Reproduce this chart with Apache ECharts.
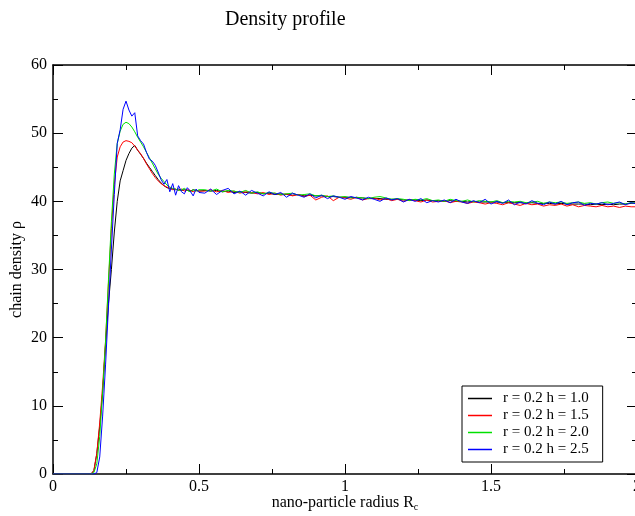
<!DOCTYPE html>
<html>
<head>
<meta charset="utf-8">
<script src="https://cdn.jsdelivr.net/npm/echarts@6/dist/echarts.min.js"></script>
<style>html,body{margin:0;padding:0;background:#fff;}#c{width:635px;height:516px;}</style>
</head>
<body>
<div id="c"></div>
<script>
var xValues = [0, 0.12, 0.13,
  0.14,0.15,0.16,0.17,0.18,0.19,0.20,0.21,0.22,0.23,0.24,0.25,0.26,0.27,0.28,0.29,0.30,0.31,0.32,0.33,0.34,0.35,0.36,0.37,0.38,0.39,0.40,0.41,0.42,0.43,0.44,0.45,0.46,0.47,0.48,0.49,0.50,
  0.52,0.54,0.56,0.58,0.60,0.62,0.64,0.66,0.68,0.70,
  0.72,0.74,0.76,0.78,0.80,0.82,0.84,0.86,0.88,0.90,
  0.92,0.94,0.96,0.98,1.00,1.02,1.04,1.06,1.08,1.10,
  1.12,1.14,1.16,1.18,1.20,1.22,1.24,1.26,1.28,1.30,
  1.32,1.34,1.36,1.38,1.40,1.42,1.44,1.46,1.48,1.50,
  1.52,1.54,1.56,1.58,1.60,1.62,1.64,1.66,1.68,1.70,
  1.72,1.74,1.76,1.78,1.80,1.82,1.84,1.86,1.88,1.90,
  1.92,1.94,1.96,1.98,2.00];

var h10 = [0,0,0,
  0.5,3,7,12,19,25,30,35.5,40,43,44.5,46,47,47.8,48.2,47.5,46.9,46.3,45.6,45,44.4,43.8,43.2,42.7,42.3,42,41.9,41.8,41.7,41.8,41.6,41.7,41.6,41.5,41.7,41.6,41.5,
  41.6,41.5,41.6,41.4,41.5,41.3,41.4,41.3,41.2,41.3,
  41.1,41.2,41.0,41.1,41.0,40.9,41.0,40.8,40.9,40.8,
  40.8,40.7,40.7,40.6,40.6,40.6,40.5,40.5,40.4,40.4,
  40.4,40.3,40.3,40.3,40.2,40.2,40.2,40.1,40.2,40.1,
  40.1,40.0,40.1,40.0,40.0,39.9,40.0,39.9,39.9,39.9,
  39.9,39.8,39.8,39.8,39.8,39.7,39.8,39.7,39.7,39.7,
  39.6,39.7,39.6,39.6,39.6,39.6,39.5,39.6,39.5,39.6,
  39.5,39.6,39.6,39.7,39.8];

var h15 = [0,0,0,
  0.5,3,7.5,13,19.5,28,36,42.5,46.5,48,48.7,48.9,48.8,48.6,48.1,47.5,47,46.3,45.5,44.8,44.1,43.5,43,42.6,42.3,42.1,41.9,41.7,41.8,41.6,41.8,41.5,41.7,41.6,41.4,41.6,41.5,
  41.5,41.7,41.4,41.6,41.3,41.5,41.2,41.4,41.3,41.1,
  41.3,41.0,41.2,40.9,41.1,40.8,41.0,40.7,40.9,40.2,
  40.6,40.8,40.1,40.6,40.5,40.3,40.6,40.2,40.4,40.5,
  40.2,40.4,40.1,40.3,40.0,40.2,40.1,39.9,40.2,39.9,
  40.0,40.1,39.8,40.0,39.9,39.7,39.9,39.8,39.6,39.8,
  39.7,39.5,39.8,39.6,39.4,39.7,39.5,39.6,39.3,39.5,
  39.4,39.6,39.3,39.5,39.2,39.4,39.3,39.2,39.4,39.2,
  39.3,39.1,39.3,39.2,39.2];

var h20 = [0,0,0,
  0.2,1.5,5.5,12,19.5,28.5,37,44,48.5,50.3,51.3,51.6,51.4,50.9,50.2,49.4,48.7,48,47.2,46.4,45.6,44.8,44,43.4,42.9,42.4,42.1,41.9,41.8,41.6,41.7,41.9,41.6,41.4,41.7,41.5,41.7,
  41.7,41.5,41.8,41.4,41.6,41.5,41.3,41.6,41.2,41.4,
  41.1,41.3,41.2,41.0,41.1,41.2,40.9,41.0,41.1,40.8,
  40.9,40.7,40.8,40.6,40.7,40.5,40.6,40.5,40.4,40.6,
  40.7,40.5,40.3,40.4,40.3,40.1,40.3,40.2,40.4,40.1,
  40.2,40.0,40.3,40.1,40.0,40.2,39.9,40.1,40.0,39.9,
  40.1,39.8,40.0,39.9,40.0,39.8,39.9,40.0,39.7,39.9,
  39.8,39.9,39.7,39.8,39.9,39.7,39.8,39.6,39.8,39.9,
  39.7,39.8,39.6,39.8,39.7];

var h25 = [0,0,0,
  0,0.2,2.5,8.5,16,24.5,33,41,48.5,50.5,53.5,54.7,53.4,52.5,53,49.6,48.9,48.4,47.2,46.2,45.9,45.3,44.3,43.2,42.5,43.2,41.4,42.6,40.9,42.3,41.4,41.1,42.0,41.5,40.8,41.8,41.3,
  41.2,41.8,41.0,41.6,41.9,41.1,41.5,40.9,41.6,41.2,
  40.8,41.4,41.0,41.3,40.6,41.2,40.9,40.6,41.1,40.5,
  40.9,40.4,40.8,40.6,40.3,40.7,40.5,40.2,40.6,40.3,
  40.0,40.5,40.2,40.4,39.9,40.3,40.0,40.4,39.8,40.1,
  39.9,40.2,39.8,40.3,39.9,39.7,40.1,39.8,40.3,39.6,
  40.0,39.7,40.2,39.5,39.9,39.6,40.1,39.7,39.5,39.9,
  39.6,40.0,39.5,39.8,39.9,39.4,39.7,39.6,39.8,39.5,
  39.7,39.9,39.5,39.8,39.6];

var seriesNames = ['r = 0.2 h = 1.0', 'r = 0.2 h = 1.5', 'r = 0.2 h = 2.0', 'r = 0.2 h = 2.5'];
var seriesValues = [h10, h15, h20, h25];
var seriesColors = ['#000000', '#ff0000', '#00e000', '#0000ff'];
var xTicks = [0, 0.5, 1, 1.5, 2];
var yTicks = [0, 10, 20, 30, 40, 50, 60];

var FONT = '"Liberation Serif", "DejaVu Serif", serif';

function pairs(vals) {
  var out = [];
  for (var i = 0; i < xValues.length; i++) out.push([xValues[i], vals[i]]);
  return out;
}

var series = seriesNames.map(function (n, i) {
  return {
    name: n, type: 'line', data: pairs(seriesValues[i]),
    showSymbol: false, symbol: 'none', smooth: false,
    lineStyle: { width: 1, color: seriesColors[i] },
    itemStyle: { color: seriesColors[i] },
    xAxisIndex: 0, yAxisIndex: 0, clip: true
  };
});

var axisCommon = {
  axisLine: { show: true, onZero: false, lineStyle: { color: '#000', width: 1.5 } },
  axisTick: { show: true, inside: true, length: 10, lineStyle: { color: '#000', width: 1 } },
  minorTick: { show: true, splitNumber: 2, length: 5, lineStyle: { color: '#000', width: 1 } },
  splitLine: { show: false }
};

var chart = echarts.init(document.getElementById('c'), null, { renderer: 'canvas' });
chart.setOption({
  animation: false,
  backgroundColor: '#fff',
  title: {
    text: 'Density profile', left: 220, top: 5,
    textStyle: { fontFamily: FONT, fontSize: 20, fontWeight: 'normal', color: '#000' }
  },
  grid: { left: 53, top: 65, width: 584, height: 409, containLabel: false, outerBoundsMode: 'none' },
  legend: {
    orient: 'vertical', left: 462, top: 386,
    padding: [5, 14, 5, 6],
    borderColor: '#000', borderWidth: 1, backgroundColor: '#fff',
    itemWidth: 24, itemHeight: 1.5, itemGap: 2, icon: 'rect',
    data: seriesNames,
    formatter: function (n) { return '{a|' + n + '}'; },
    textStyle: {
      fontFamily: FONT, fontSize: 15, color: '#000', lineHeight: 13,
      rich: { a: { fontFamily: FONT, fontSize: 15, color: '#000', padding: [0, 0, 0, 6], lineHeight: 13 } }
    }
  },
  xAxis: [
    Object.assign({
      type: 'value', min: xTicks[0], max: xTicks[xTicks.length - 1], interval: 0.5, position: 'bottom',
      name: 'nano-particle radius R{sub|c}', nameLocation: 'middle', nameGap: 20, nameMoveOverlap: false,
      nameTextStyle: { fontFamily: FONT, fontSize: 16, color: '#000',
        rich: { sub: { fontFamily: FONT, fontSize: 10, color: '#000', verticalAlign: 'bottom', padding: [8, 0, 0, 0] } } },
      axisLabel: { show: true, margin: 5, fontFamily: FONT, fontSize: 16, color: '#000',
        formatter: function (v) { return String(v); } }
    }, axisCommon),
    Object.assign({
      type: 'value', min: xTicks[0], max: xTicks[xTicks.length - 1], interval: 0.5, position: 'top',
      axisLabel: { show: false }
    }, axisCommon)
  ],
  yAxis: [
    Object.assign({
      type: 'value', min: yTicks[0], max: yTicks[yTicks.length - 1], interval: 10, position: 'left',
      name: 'chain density ρ', nameLocation: 'middle', nameGap: 28, nameRotate: 90, nameMoveOverlap: false,
      nameTextStyle: { fontFamily: FONT, fontSize: 16, color: '#000' },
      axisLabel: { show: true, margin: 6, fontFamily: FONT, fontSize: 16, color: '#000' }
    }, axisCommon),
    Object.assign({
      type: 'value', min: yTicks[0], max: yTicks[yTicks.length - 1], interval: 10, position: 'right',
      axisLabel: { show: false }
    }, axisCommon)
  ],
  series: series
});
</script>
</body>
</html>
